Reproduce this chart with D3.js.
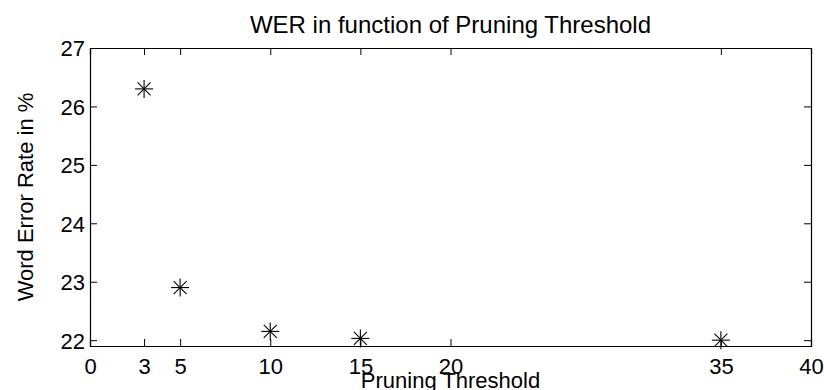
<!DOCTYPE html>
<html>
<head>
<meta charset="utf-8">
<script src="https://cdn.jsdelivr.net/npm/d3@7"></script>
<style>
  body { margin: 0; background: #fff; }
  text { font-family: "Liberation Sans", Arial, sans-serif; fill: #000; }
</style>
</head>
<body>
<svg id="chart"></svg>
<script>
// pruning thresholds and word error rates
const thresholds = [3, 5, 10, 15, 35];
const wer = [26.3, 22.9, 22.15, 22.03, 22.0];
const xTicks = [0, 3, 5, 10, 15, 20, 35, 40];
const yTicks = [22, 23, 24, 25, 26, 27];

const svgWidth = 824;
const svgHeight = 390;
const margin = {top: 48, right: 13, bottom: 44, left: 90};
const width = svgWidth - margin.left - margin.right;
const height = svgHeight - margin.top - margin.bottom;

const svg = d3.select('#chart')
  .attr('width', svgWidth)
  .attr('height', svgHeight);

const g = svg.append('g')
  .attr('transform', 'translate(' + margin.left + ',' + margin.top + ')');

const x = d3.scaleLinear().domain([0, 40]).range([0, width]);
const y = d3.scaleLinear().domain([21.9, 27]).range([height, 0]);

const tickLen = 7;

// bottom axis with labels, ticks pointing inward
const xAxis = g.append('g')
  .attr('transform', 'translate(0,' + height + ')')
  .call(d3.axisBottom(x).tickValues(xTicks).tickSize(-tickLen).tickPadding(12).tickFormat(d3.format('d')));
// top mirror ticks
const xTop = g.append('g')
  .call(d3.axisTop(x).tickValues(xTicks).tickSize(-tickLen).tickFormat(''));

const yAxis = g.append('g')
  .call(d3.axisLeft(y).tickValues(yTicks).tickSize(-tickLen).tickPadding(5).tickFormat(d3.format('d')));
const yRight = g.append('g')
  .attr('transform', 'translate(' + width + ',0)')
  .call(d3.axisRight(y).tickValues(yTicks).tickSize(-tickLen).tickFormat(''));

[xAxis, xTop, yAxis, yRight].forEach(a => {
  a.select('.domain').attr('stroke', '#000').attr('stroke-width', 1.2);
  a.selectAll('.tick line').attr('stroke', '#000');
  a.selectAll('.tick text')
    .style('font-size', '22px')
    .style('font-family', '"Liberation Sans", Arial, sans-serif')
    .attr('fill', '#000');
});
yAxis.selectAll('.tick text').attr('dy', '0.36em');

// asterisk markers
const r = 9;
const rd = 6.5;
const star = g.selectAll('.pt')
  .data(thresholds.map((t, i) => ({t: t, v: wer[i]})))
  .enter()
  .append('g')
  .attr('transform', d => 'translate(' + x(d.t) + ',' + y(d.v) + ')');

const arms = [[-r, 0, r, 0], [0, -r, 0, r], [-rd, -rd, rd, rd], [-rd, rd, rd, -rd]];
arms.forEach(a => {
  star.append('line')
    .attr('x1', a[0]).attr('y1', a[1])
    .attr('x2', a[2]).attr('y2', a[3])
    .attr('stroke', '#000')
    .attr('stroke-width', 1.1);
});

// title and axis labels
svg.append('text')
  .attr('x', margin.left + width / 2)
  .attr('y', 33)
  .attr('text-anchor', 'middle')
  .style('font-size', '24px')
  .text('WER in function of Pruning Threshold');

svg.append('text')
  .attr('x', margin.left + width / 2)
  .attr('y', 388)
  .attr('text-anchor', 'middle')
  .style('font-size', '22px')
  .text('Pruning Threshold');

svg.append('text')
  .attr('transform', 'translate(33,' + (margin.top + height / 2) + ') rotate(-90)')
  .attr('text-anchor', 'middle')
  .style('font-size', '22px')
  .text('Word Error Rate in %');
</script>
</body>
</html>
